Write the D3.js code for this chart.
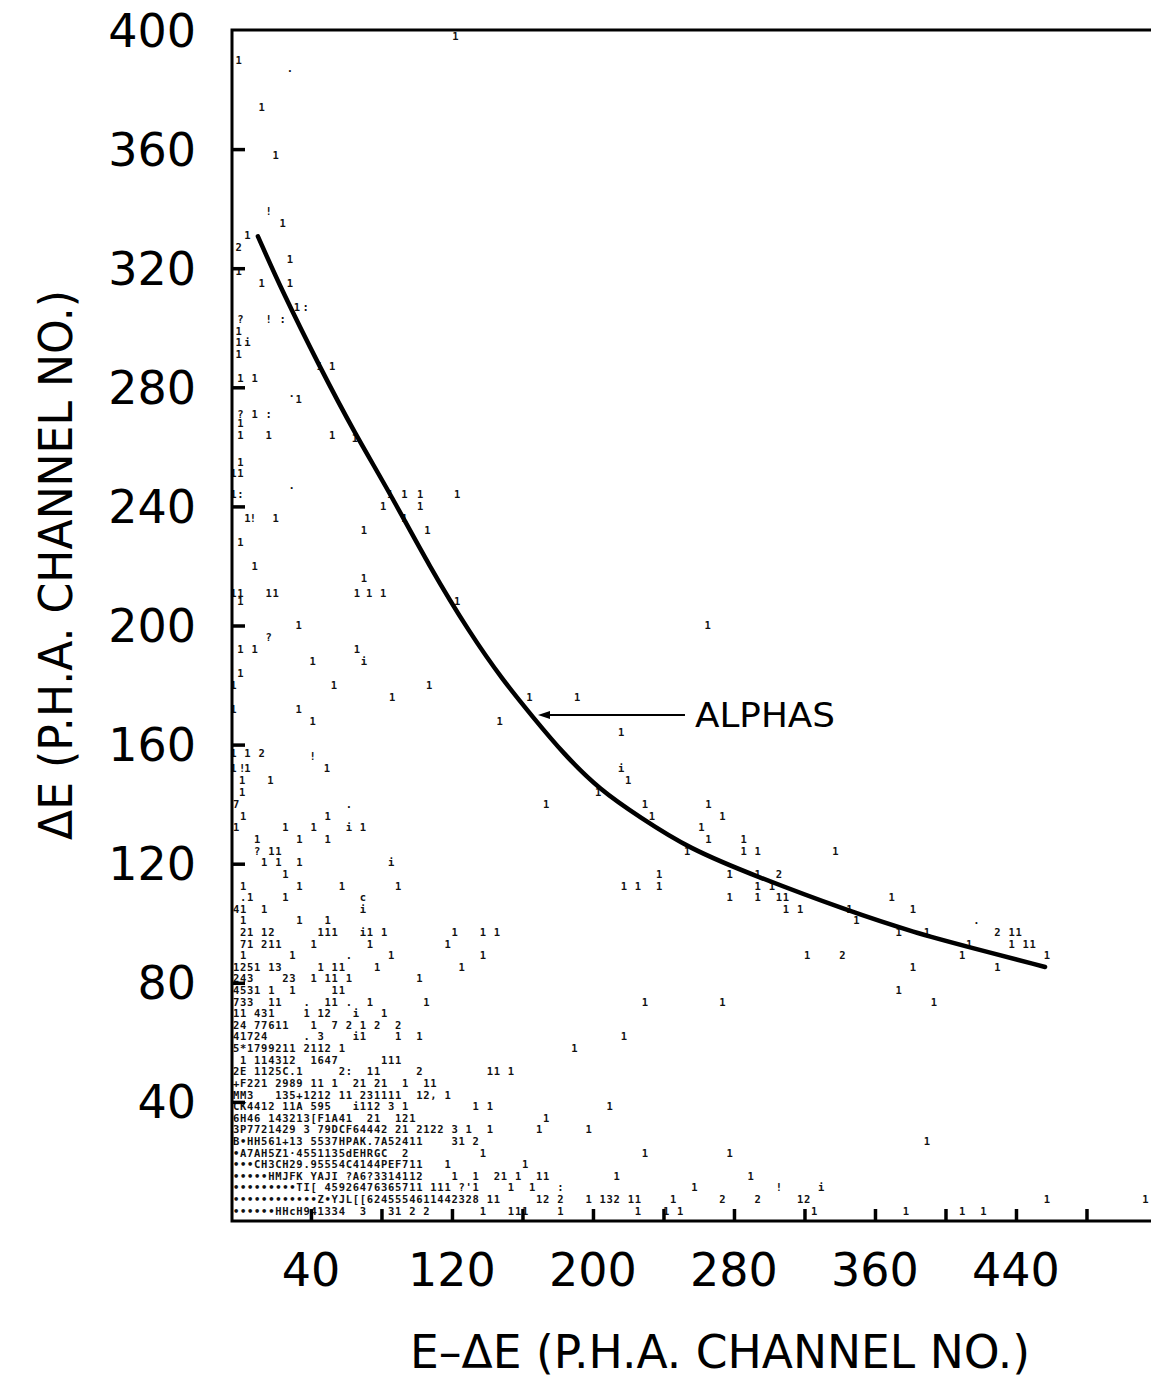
<!DOCTYPE html>
<html><head><meta charset="utf-8">
<script src="https://cdn.jsdelivr.net/npm/d3@7"></script>
<style>body{margin:0;background:#fff}</style>
</head><body>
<svg id="chart" width="1151" height="1385"></svg>
<script>
// ---------- data ----------
const xTickValues = [40, 80, 120, 160, 200, 240, 280, 320, 360, 400, 440, 480];
const xTickLabels = [40, 120, 200, 280, 360, 440];
const yTickValues = [40, 80, 120, 160, 200, 240, 280, 320, 360];
const yTickLabels = [40, 80, 120, 160, 200, 240, 280, 320, 360, 400];

const xTitle = "E\u2013\u0394E (P.H.A. CHANNEL NO.)";
const yTitle = "\u0394E (P.H.A. CHANNEL NO.)";

// ALPHAS locus (E-dE, dE)
const curveX = [9.9, 23.5, 45.1, 65.0, 84.9, 107.5, 130.2, 148.9, 166.0, 183.0, 204.0, 226.7, 253.9, 293.6, 343.6, 383.3, 413.4, 456.5];
const curveY = [330.7, 312.5, 286.7, 264.4, 244.4, 219.5, 197.4, 181.6, 169.2, 157.1, 144.7, 135.6, 125.2, 115.5, 104.4, 96.7, 92.0, 85.3];

const annotationLabel = "ALPHAS";
const annotationTip = [168.8, 169.9];
const annotationTail = [252.2, 169.9];

// printer grid: 4 channels per column, rows of the line-printer map
const binWidth = 4, binStartX = -2.5, rowStep = 3.9, rowStartY = 3.4;
const printRows = [
 {row:0, cells:[[0,"••••••HHcH"],[10,"941334"],[18,"3"],[22,"31 2 2"],[35,"1"],[39,"111"],[46,"1"],[57,"1"],[61,"1"],[63,"1"],[82,"1"],[95,"1"],[103,"1"],[106,"1"]]},
 {row:1, cells:[[0,"••••••••••••Z•YJL[[6245554611442328"],[36,"11"],[43,"12 2"],[50,"1 132"],[56,"11"],[62,"1"],[69,"2"],[74,"2"],[80,"12"],[115,"1"],[129,"1"]]},
 {row:2, cells:[[0,"•••••••••TI[ 45926476365711 111 ?'1"],[39,"1"],[42,"1"],[46,":"],[65,"1"],[77,"!"],[83,"i"]]},
 {row:3, cells:[[0,"•••••HMJFK YAJI ?A6?3314112"],[31,"1"],[34,"1"],[37,"21 1"],[43,"11"],[54,"1"],[73,"1"]]},
 {row:4, cells:[[0,"•••CH3CH29.95554C4144PEF711"],[30,"1"],[41,"1"]]},
 {row:5, cells:[[0,"•A7AH5Z1·4551135dEHRGC  2"],[35,"1"],[58,"1"],[70,"1"]]},
 {row:6, cells:[[0,"B•HH561+13 5537HPAK.7A52411"],[31,"31 2"],[98,"1"]]},
 {row:7, cells:[[0,"3P7721429 3 79DCF64442 21 2122"],[31,"3"],[33,"1"],[36,"1"],[43,"1"],[50,"1"]]},
 {row:8, cells:[[0,"6H46 143213[F1A41  21  121"],[44,"1"]]},
 {row:9, cells:[[0,"CK4412 11A 595   i112 3 1"],[34,"1"],[36,"1"],[53,"1"]]},
 {row:10, cells:[[0,"MM3   135+1212 11 231111  12, 1"]]},
 {row:11, cells:[[0,"+F221 2989 11 1  21 21  1  11"]]},
 {row:12, cells:[[0,"2E 1125C.1"],[15,"2:"],[19,"11"],[26,"2"],[36,"11 1"]]},
 {row:13, cells:[[1,"1 114312"],[11,"1647"],[21,"111"]]},
 {row:14, cells:[[0,"5*1799211 2112 1"],[48,"1"]]},
 {row:15, cells:[[0,"41724"],[10,"."],[12,"3"],[17,"i"],[18,"1"],[23,"1"],[26,"1"],[55,"1"]]},
 {row:16, cells:[[0,"24"],[3,"77611"],[11,"1"],[14,"7"],[16,"2"],[18,"1"],[20,"2"],[23,"2"]]},
 {row:17, cells:[[0,"11"],[3,"431"],[10,"1"],[12,"12"],[17,"i"],[21,"1"]]},
 {row:18, cells:[[0,"733"],[5,"11"],[10,"."],[13,"11"],[16,"."],[19,"1"],[27,"1"],[58,"1"],[69,"1"],[99,"1"]]},
 {row:19, cells:[[0,"4531"],[5,"1"],[8,"1"],[14,"11"],[94,"1"]]},
 {row:20, cells:[[0,"243"],[7,"23"],[11,"1"],[13,"11"],[16,"1"],[26,"1"]]},
 {row:21, cells:[[0,"1251"],[5,"13"],[12,"1"],[14,"11"],[20,"1"],[32,"1"],[96,"1"],[108,"1"]]},
 {row:22, cells:[[1,"1"],[8,"1"],[16,"."],[22,"1"],[35,"1"],[81,"1"],[86,"2"],[103,"1"],[115,"1"]]},
 {row:23, cells:[[1,"71"],[4,"211"],[11,"1"],[19,"1"],[30,"1"],[104,"1"],[110,"1"],[112,"11"]]},
 {row:24, cells:[[1,"21"],[4,"12"],[12,"111"],[18,"i1"],[21,"1"],[31,"1"],[35,"1"],[37,"1"],[94,"1"],[98,"1"],[108,"2"],[110,"11"]]},
 {row:25, cells:[[1,"1"],[9,"1"],[13,"1"],[88,"1"],[105,"."]]},
 {row:26, cells:[[0,"41"],[4,"1"],[18,"i"],[78,"1"],[80,"1"],[87,"1"],[96,"1"]]},
 {row:27, cells:[[1,".1"],[7,"1"],[18,"c"],[70,"1"],[74,"1"],[77,"11"],[93,"1"]]},
 {row:28, cells:[[1,"1"],[9,"1"],[15,"1"],[23,"1"],[55,"1"],[57,"1"],[60,"1"],[74,"1"],[76,"1"]]},
 {row:29, cells:[[7,"1"],[60,"1"],[70,"1"],[74,"1"],[77,"2"]]},
 {row:30, cells:[[4,"1"],[6,"1"],[9,"1"],[22,"i"]]},
 {row:31, cells:[[3,"?"],[5,"11"],[64,"1"],[72,"1"],[74,"1"],[85,"1"]]},
 {row:32, cells:[[3,"1"],[9,"1"],[13,"1"],[67,"1"],[72,"1"]]},
 {row:33, cells:[[0,"1"],[7,"1"],[11,"1"],[16,"i"],[18,"1"],[66,"1"]]},
 {row:34, cells:[[1,"1"],[13,"1"],[59,"1"],[69,"1"]]},
 {row:35, cells:[[0,"7"],[16,"."],[44,"1"],[58,"1"],[67,"1"]]}
];

// isolated counts above the dense map: [E-dE, dE, symbol]
const sparseChars = [
 [-1,390,"1"],[122,398,"1"],[28,387,"."],
 [12,374,"1"],[20,358,"1"],[16,339,"!"],[24,335,"1"],[4,331,"1"],[-1,327,"2"],[28,323,"1"],[-1,319,"1"],[12,315,"1"],[28,315,"1"],
 [32,307,"1"],[37,307,":"],[0,303,"?"],[16,303,"!"],[24,303,":"],[-1,299,"1"],[-1,295,"1"],[4,295,"i"],[-1,291,"1"],[45,287,"1"],[52,287,"1"],
 [0,283,"1"],[8,283,"1"],[29,278,"."],[33,276,"1"],[0,271,"?"],[8,271,"1"],[16,271,":"],[0,268,"1"],[0,264,"1"],[16,264,"1"],[52,264,"1"],[65,263,"1"],
 [0,255,"1"],[-4,251,"1"],[0,251,"1"],[29,247,"."],[-4,244,"1"],[0,244,":"],[85,244,"1"],[93,244,"1"],[102,244,"1"],[123,244,"1"],
 [81,240,"1"],[102,240,"1"],[4,236,"1"],[7,236,"!"],[20,236,"1"],[93,236,"1"],[70,232,"1"],[106,232,"1"],[0,228,"1"],[8,220,"1"],[70,216,"1"],
 [-4,211,"1"],[0,211,"1"],[16,211,"1"],[20,211,"1"],[66,211,"1"],[73,211,"1"],[81,211,"1"],[0,208,"1"],[123,208,"1"],
 [265,200,"1"],[33,200,"1"],[16,196,"?"],[0,192,"1"],[8,192,"1"],[66,192,"1"],[41,188,"1"],[70,188,"i"],[0,184,"1"],
 [-4,180,"1"],[53,180,"1"],[107,180,"1"],[86,176,"1"],[164,176,"1"],[191,176,"1"],[-4,172,"1"],[33,172,"1"],[147,168,"1"],[41,168,"1"],
 [216,164,"1"],[-4,157,"1"],[4,157,"1"],[12,157,"2"],[41,156,"!"],[-4,152,"1"],[1,152,"!"],[4,152,"1"],[49,152,"1"],[216,152,"i"],
 [220,148,"1"],[1,148,"1"],[17,148,"1"],[1,144,"1"],[203,144,"1"]
];

// ---------- drawing ----------
const svg = d3.select("#chart");
const plotLeft = 232, plotRight = 1151, plotTop = 30, plotBottom = 1221;

const x = d3.scaleLinear().domain([-4.8, 516.6]).range([plotLeft, plotRight]);
const y = d3.scaleLinear().domain([0, 400]).range([plotBottom, plotTop]);

const lettering = "'DejaVu Sans', sans-serif";
const printer = "'DejaVu Sans Mono', monospace";

// printer characters
const cells = [];
printRows.forEach(r => {
  r.cells.forEach(([col, txt]) => {
    Array.from(txt).forEach((ch, i) => {
      if (ch !== " ") cells.push({x: binStartX + binWidth * (col + i), y: rowStartY + rowStep * r.row, ch});
    });
  });
});
sparseChars.forEach(([vx, vy, ch]) => cells.push({x: vx, y: vy, ch}));

svg.append("g").selectAll("text").data(cells).join("text")
  .attr("x", d => x(d.x)).attr("y", d => y(d.y))
  .attr("dy", "0.36em").attr("text-anchor", "middle")
  .attr("font-family", printer).attr("font-size", 10.5).attr("font-weight", "bold")
  .attr("fill", "#111").text(d => d.ch);

// frame / axes
svg.append("path").attr("d", `M${plotRight},${plotTop}H${plotLeft}V${plotBottom}H${plotRight}`)
  .attr("stroke", "#000").attr("stroke-width", 3).attr("fill", "none").attr("stroke-linejoin", "miter");

const xAxis = d3.axisBottom(x).tickValues(xTickValues).tickSize(-12).tickFormat("");
const gx = svg.append("g").attr("transform", `translate(0,${plotBottom})`).call(xAxis);
gx.select(".domain").remove();
gx.selectAll(".tick line").attr("stroke", "#000").attr("stroke-width", 3.5);

const yAxis = d3.axisLeft(y).tickValues(yTickValues).tickSize(-13).tickFormat("");
const gy = svg.append("g").attr("transform", `translate(${plotLeft},0)`).call(yAxis);
gy.select(".domain").remove();
gy.selectAll(".tick line").attr("stroke", "#000").attr("stroke-width", 3.5);

// tick labels
svg.append("g").selectAll("text").data(yTickLabels).join("text")
  .attr("x", 196).attr("y", d => y(d)).attr("dy", "0.36em")
  .attr("text-anchor", "end").attr("font-family", lettering).attr("font-size", 46)
  .attr("fill", "#000").text(d => d);

svg.append("g").selectAll("text").data(xTickLabels).join("text")
  .attr("x", d => x(d)).attr("y", 1286)
  .attr("text-anchor", "middle").attr("font-family", lettering).attr("font-size", 46)
  .attr("fill", "#000").text(d => d);

// axis titles
svg.append("text").attr("x", 720).attr("y", 1368)
  .attr("text-anchor", "middle").attr("font-family", lettering).attr("font-size", 46)
  .attr("textLength", 620).attr("lengthAdjust", "spacingAndGlyphs")
  .attr("fill", "#000").text(xTitle);

svg.append("text").attr("transform", "translate(72,565) rotate(-90)")
  .attr("text-anchor", "middle").attr("font-family", lettering).attr("font-size", 46)
  .attr("textLength", 550).attr("lengthAdjust", "spacingAndGlyphs")
  .attr("fill", "#000").text(yTitle);

// ALPHAS curve
const line = d3.line().x(d => x(d[0])).y(d => y(d[1])).curve(d3.curveBasis);
svg.append("path").datum(curveX.map((v, i) => [v, curveY[i]]))
  .attr("d", line).attr("fill", "none").attr("stroke", "#000")
  .attr("stroke-width", 4.5).attr("stroke-linecap", "round");

// annotation arrow
const tipX = x(annotationTip[0]), tipY = y(annotationTip[1]);
svg.append("line").attr("x1", x(annotationTail[0])).attr("y1", y(annotationTail[1]))
  .attr("x2", tipX + 8).attr("y2", tipY).attr("stroke", "#000").attr("stroke-width", 2);
svg.append("path").attr("d", `M${tipX},${tipY}L${tipX + 12},${tipY - 4}L${tipX + 12},${tipY + 4}Z`).attr("fill", "#000");
svg.append("text").attr("x", x(annotationTail[0]) + 10).attr("y", tipY).attr("dy", "0.36em")
  .attr("font-family", lettering).attr("font-size", 33)
  .attr("textLength", 140).attr("lengthAdjust", "spacingAndGlyphs")
  .attr("fill", "#000").text(annotationLabel);
</script>
</body></html>
